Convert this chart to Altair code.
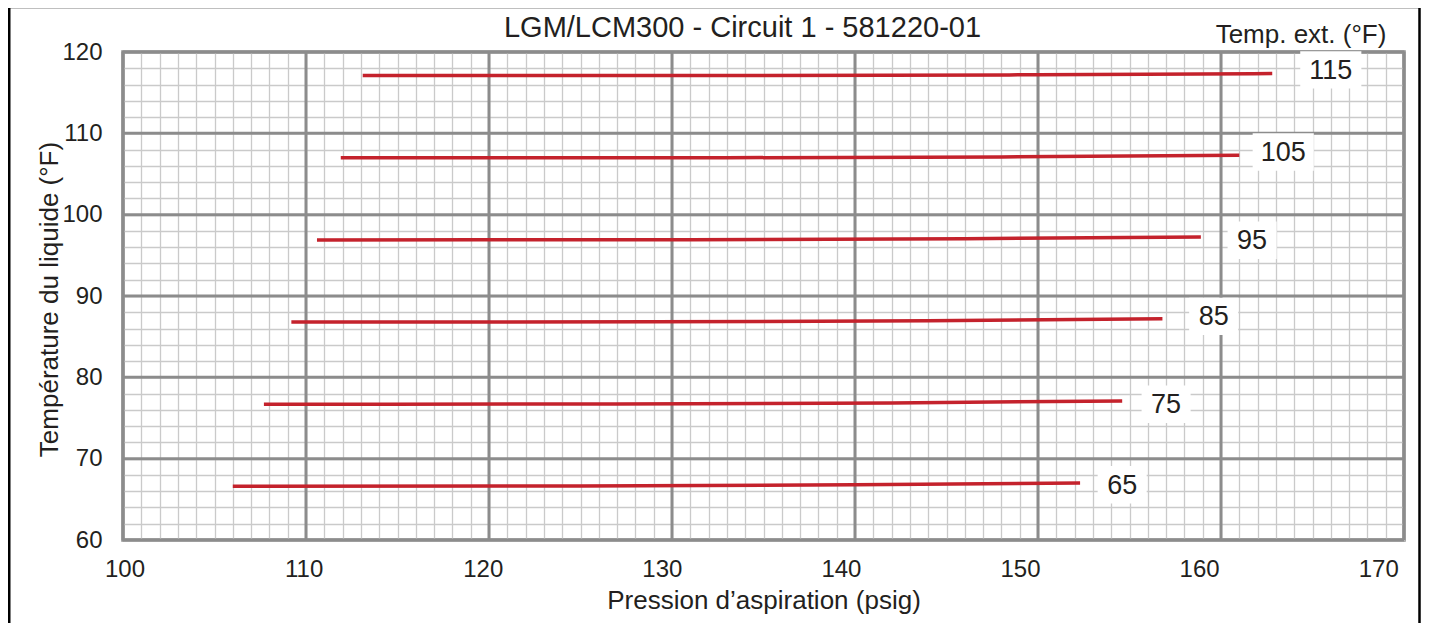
import altair as alt
import pandas as pd

# --- data ---
temps = ["65", "75", "85", "95", "105", "115"]

pressure_65 = [106.0, 125.0, 140.0, 152.3]
liquid_65 = [66.62, 66.64, 66.78, 67.0]
pressure_75 = [107.7, 127.0, 142.0, 154.6]
liquid_75 = [76.7, 76.72, 76.85, 77.1]
pressure_85 = [109.2, 129.0, 144.0, 156.8]
liquid_85 = [86.8, 86.82, 86.95, 87.2]
pressure_95 = [110.6, 131.0, 146.0, 158.9]
liquid_95 = [96.9, 96.92, 97.05, 97.25]
pressure_105 = [111.9, 133.0, 148.0, 161.0]
liquid_105 = [107.0, 107.0, 107.1, 107.3]
pressure_115 = [113.1, 135.0, 150.0, 162.8]
liquid_115 = [117.1, 117.1, 117.2, 117.35]

label_x = [154.6, 157.0, 159.6, 161.7, 163.4, 166.0]
label_y = [66.8, 76.7, 87.5, 96.85, 107.7, 117.8]

x_major = [100, 110, 120, 130, 140, 150, 160, 170]
y_major = [60, 70, 80, 90, 100, 110, 120]
x_minor = list(range(100, 171, 1))
y_minor = list(range(60, 121, 2))

chart_title = "LGM/LCM300 - Circuit 1 - 581220-01"
legend_title_text = "Temp. ext. (°F)"

series = {
    "65": (pressure_65, liquid_65),
    "75": (pressure_75, liquid_75),
    "85": (pressure_85, liquid_85),
    "95": (pressure_95, liquid_95),
    "105": (pressure_105, liquid_105),
    "115": (pressure_115, liquid_115),
}
rows = []
for t in temps:
    px, ly = series[t]
    for i, (a, b) in enumerate(zip(px, ly)):
        rows.append({"temp": t, "pressure": a, "liquid": b, "i": i})
lines_df = pd.DataFrame(rows)
labels_df = pd.DataFrame({"temp": temps, "lx": label_x, "ly": label_y})
xmaj_df = pd.DataFrame({"v": x_major})
ymaj_df = pd.DataFrame({"v": y_major})
one_df = pd.DataFrame({"k": [0]})

FONT = "Liberation Sans"
TXT = "#231f20"
RED = "#c4222c"
MAJOR = "#8c8c8c"
MINOR = "#cacaca"

xs = alt.Scale(domain=[100, 170], nice=False, zero=False)
ys = alt.Scale(domain=[60, 120], nice=False, zero=False)

# the x tick labels of the reference drift slightly left of their gridlines
x_label_offset = {
    "condition": [
        {"test": f"datum.value == {v}", "value": round(1.5 - 0.39 * (v - 100), 1)}
        for v in x_major
    ],
    "value": 0,
}

xaxis = alt.Axis(
    values=x_minor, grid=True, gridColor=MINOR, gridWidth=1.3,
    ticks=False, domain=False, labelOverlap=False, labelFlush=False,
    labelExpr="datum.value % 10 === 0 ? datum.label : ''",
    labelOffset=x_label_offset,
    labelFont=FONT, labelFontSize=24, labelColor=TXT, labelPadding=17,
    title="Pression d’aspiration (psig)", titleFont=FONT, titleFontSize=26,
    titleFontWeight="normal", titleColor=TXT, titleY=68,
    titleBaseline="alphabetic",
)
yaxis = alt.Axis(
    values=y_minor, grid=True, gridColor=MINOR, gridWidth=1.3,
    ticks=False, domain=False, labelOverlap=False, labelFlush=False,
    labelExpr="datum.value % 10 === 0 ? datum.label : ''",
    labelFont=FONT, labelFontSize=24, labelColor=TXT, labelPadding=21,
    labelBaseline="middle",
    title="Température du liquide (°F)", titleFont=FONT, titleFontSize=26,
    titleFontWeight="normal", titleColor=TXT, titleX=-66, titleY=247,
    titleAngle=270, titleAlign="center", titleBaseline="alphabetic",
)

vrules = alt.Chart(xmaj_df).mark_rule(color=MAJOR, strokeWidth=3).encode(
    x=alt.X("v:Q", scale=xs, axis=xaxis)
)
hrules = alt.Chart(ymaj_df).mark_rule(color=MAJOR, strokeWidth=3).encode(
    y=alt.Y("v:Q", scale=ys, axis=yaxis)
)

boxes = alt.Chart(labels_df).transform_calculate(
    x1="datum.lx - (0.33*length(datum.temp) + 0.68)",
    x2="datum.lx + (0.33*length(datum.temp) + 0.68)",
    y1="datum.ly - 2.3",
    y2="datum.ly + 2.3",
).mark_rect(fill="white").encode(
    x=alt.X("x1:Q", scale=xs, axis=xaxis),
    x2="x2:Q",
    y=alt.Y("y1:Q", scale=ys, axis=yaxis),
    y2="y2:Q",
)

lines = alt.Chart(lines_df).mark_line(color=RED, strokeWidth=3.5, interpolate="monotone").encode(
    x=alt.X("pressure:Q", scale=xs, axis=xaxis),
    y=alt.Y("liquid:Q", scale=ys, axis=yaxis),
    detail="temp:N",
    order="i:Q",
)

labels = alt.Chart(labels_df).mark_text(
    font=FONT, fontSize=27, color=TXT, align="center", baseline="middle", dy=1
).encode(
    x=alt.X("lx:Q", scale=xs, axis=xaxis),
    y=alt.Y("ly:Q", scale=ys, axis=yaxis),
    text="temp:N",
)

title_text = alt.Chart(one_df).mark_text(
    font=FONT, fontSize=29, color=TXT, align="center", baseline="alphabetic"
).encode(
    x=alt.value(619.5), y=alt.value(-15), text=alt.value(chart_title)
)

legend_title = alt.Chart(one_df).mark_text(
    font=FONT, fontSize=26, color=TXT, align="center", baseline="alphabetic"
).encode(
    x=alt.value(1178), y=alt.value(-9), text=alt.value(legend_title_text)
)

frame = alt.Chart(one_df).mark_rect(
    fillOpacity=0, stroke="black", strokeWidth=2.5
).encode(
    x=alt.value(-113.75), x2=alt.value(1296.5),
    y=alt.value(-45), y2=alt.value(700),
)

chart = alt.layer(vrules, hrules, boxes, lines, labels, title_text, legend_title, frame).properties(
    width=1281,
    height=488,
    autosize="none",
    padding={"left": 115, "top": 44, "right": 17, "bottom": 83},
    background="white",
).configure_view(stroke=MAJOR, strokeWidth=3.5)

chart.save("out.html", embed_options={"renderer": "svg", "actions": False})
